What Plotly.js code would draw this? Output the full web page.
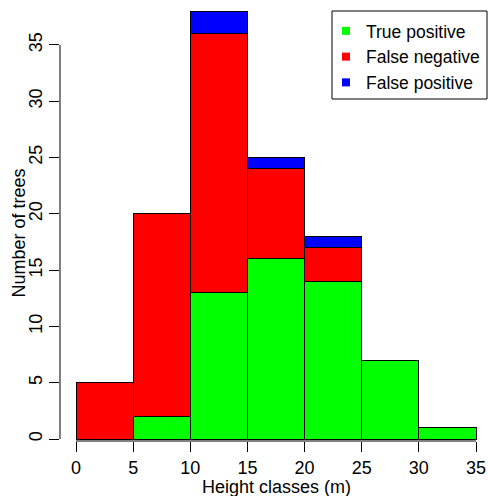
<!DOCTYPE html>
<html>
<head>
<meta charset="utf-8">
<script src="https://cdn.plot.ly/plotly-3.0.1.min.js"></script>
<style>html,body{margin:0;padding:0;background:#fff;}#chart{width:488px;height:496px;}</style>
</head>
<body>
<div id="chart"></div>
<script>
// Height classes (bin starts, bin width 5 m)
const binStarts = [0, 5, 10, 15, 20, 25, 30];
const binWidth = 5;
const truePositive = [0, 2, 13, 16, 14, 7, 1];
const falseNegative = [5, 18, 23, 8, 3, 0, 0];
const falsePositive = [0, 0, 2, 1, 1, 0, 0];
const seriesNames = ["True positive", "False negative", "False positive"];
const seriesColors = ["#00FF00", "#FF0000", "#0000FF"];
const xTicks = [0, 5, 10, 15, 20, 25, 30, 35];
const yTicks = [0, 5, 10, 15, 20, 25, 30, 35];
const xTitle = "Height classes (m)";
const yTitle = "Number of trees";

const centers = binStarts.map(s => s + binWidth / 2);
const nz = arr => arr.map(v => (v === 0 ? null : v));
const series = [truePositive, falseNegative, falsePositive];

const traces = [];
series.forEach((vals, i) => {
  traces.push({
    type: "bar",
    x: centers,
    y: nz(vals),
    width: binWidth,
    name: seriesNames[i],
    marker: { color: seriesColors[i], line: { color: "#000", width: 1 } },
    showlegend: false,
    hoverinfo: "skip"
  });
});
// legend entries as small squares
series.forEach((vals, i) => {
  traces.push({
    type: "scatter",
    mode: "markers",
    x: [null],
    y: [null],
    name: seriesNames[i],
    marker: { symbol: "square", size: 8, color: seriesColors[i] },
    showlegend: true
  });
});

const font = { family: "Liberation Sans, Arial, Helvetica, sans-serif", size: 18, color: "#000" };
const legFont = { family: "Liberation Sans, Arial, Helvetica, sans-serif", size: 17.5, color: "#000" };

// plot area in pixels: left 60, right 488, top 5, bottom 441
const PL = 60, PR = 488, PT = 5, PB = 441;
const px2paperX = p => (p - PL) / (PR - PL);
const px2paperY = p => (PB - p) / (PB - PT);

const layout = {
  width: 488,
  height: 496,
  margin: { l: PL, r: 488 - PR, t: PT, b: 496 - PB },
  paper_bgcolor: "#fff",
  plot_bgcolor: "#fff",
  font: font,
  barmode: "stack",
  bargap: 0,
  showlegend: true,
  legend: {
    x: px2paperX(326), xanchor: "left",
    y: px2paperY(13), yanchor: "top",
    borderwidth: 0,
    bgcolor: "rgba(0,0,0,0)",
    font: legFont,
    traceorder: "normal",
    tracegroupgap: 0,
    itemwidth: 30
  },
  xaxis: {
    range: [-1.4, 36.05],
    tickvals: xTicks,
    ticktext: xTicks.map(String),
    ticks: "outside", ticklen: 10, tickcolor: "#000", tickwidth: 1,
    showline: false, showgrid: false, zeroline: false,
    tickfont: font,
    automargin: false,
    fixedrange: true
  },
  yaxis: {
    range: [-0.178, 38.55],
    tickvals: yTicks,
    ticktext: yTicks.map(String),
    tickangle: -90,
    ticks: "outside", ticklen: 10, tickcolor: "#000", tickwidth: 1,
    showline: false, showgrid: false, zeroline: false,
    tickfont: font,
    automargin: false,
    fixedrange: true
  },
  annotations: [
    { text: xTitle, xref: "x", yref: "paper", x: (xTicks[0] + xTicks[xTicks.length - 1]) / 2,
      y: px2paperY(486.5), xanchor: "center", yanchor: "middle", showarrow: false, font: font },
    { text: yTitle, xref: "paper", yref: "paper", x: px2paperX(18.5), y: px2paperY(233),
      xanchor: "center", yanchor: "middle", textangle: -90, showarrow: false, font: font }
  ],
  shapes: [
    { type: "line", xref: "x", yref: "paper", x0: xTicks[0], x1: xTicks[xTicks.length - 1], y0: 0, y1: 0,
      line: { color: "#000", width: 1 } },
    { type: "line", xref: "paper", yref: "y", x0: 0, x1: 0, y0: yTicks[0], y1: yTicks[yTicks.length - 1],
      line: { color: "#000", width: 1 } },
    { type: "rect", xref: "paper", yref: "paper",
      x0: px2paperX(332), x1: px2paperX(487), y0: px2paperY(99), y1: px2paperY(11),
      line: { color: "#000", width: 1 }, fillcolor: "rgba(0,0,0,0)", layer: "above" }
  ]
};

Plotly.newPlot("chart", traces, layout, { displayModeBar: false, staticPlot: true });
</script>
</body>
</html>
